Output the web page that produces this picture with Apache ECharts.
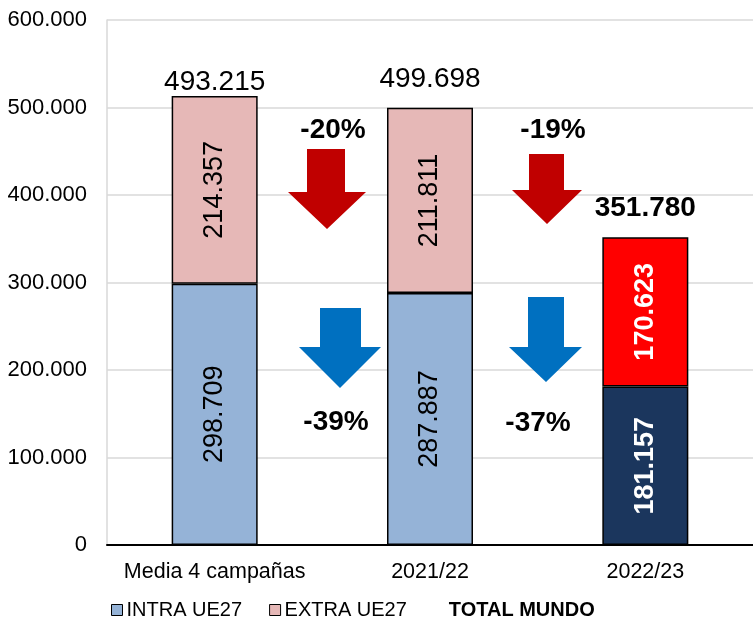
<!DOCTYPE html>
<html>
<head>
<meta charset="utf-8">
<script src="https://cdn.jsdelivr.net/npm/echarts@6/dist/echarts.min.js"></script>
<style>
html,body{margin:0;padding:0;background:#fff;}
#chart{width:753px;height:624px;}
</style>
</head>
<body>
<div id="chart"></div>
<script>
// ---- Data ----
var categories = ['Media 4 campañas', '2021/22', '2022/23'];
var intraUE27 = [298709, 287887, 181157];
var extraUE27 = [214357, 211811, 170623];
var totalMundo = [493215, 499698, 351780];
var yTicks = [0, 100000, 200000, 300000, 400000, 500000, 600000];
var extraChanges = ['-20%', '-19%'];
var intraChanges = ['-39%', '-37%'];

function fmt(v) {
  return String(v).replace(/\B(?=(\d{3})+(?!\d))/g, '.');
}

var FONT = '"Liberation Sans", Arial, sans-serif';
var chart = echarts.init(document.getElementById('chart'), null, {renderer: 'canvas'});

var intraColors = ['#95B3D7', '#95B3D7', '#1B365D'];
var extraColors = ['#E6B8B7', '#E6B8B7', '#FF0000'];
var hiIdx = 2;

function barData(vals, colors) {
  return vals.map(function (v, i) {
    var hi = i === hiIdx;
    return {
      value: v,
      itemStyle: {color: colors[i]},
      label: {color: hi ? '#FFFFFF' : '#000000', fontWeight: hi ? 'bold' : 'normal'}
    };
  });
}

var totalData = totalMundo.map(function (v, i) {
  var hi = i === hiIdx;
  return {
    value: v,
    label: {fontWeight: hi ? 'bold' : 'normal', offset: i === 0 ? [0, -3] : [0, 0]}
  };
});

// Arrow annotations (pixel shapes)
function arrow(x1, x2, top, headY, hx1, hx2, tipX, tipY, color) {
  return {
    type: 'polygon',
    shape: {points: [[x1, top], [x2, top], [x2, headY], [hx2, headY], [tipX, tipY], [hx1, headY], [x1, headY]]},
    style: {fill: color},
    z: 10
  };
}
function pct(text, x, y) {
  return {
    type: 'text', x: x, y: y,
    style: {text: text, font: 'bold 28px ' + FONT, fill: '#000', align: 'center', verticalAlign: 'middle'},
    z: 10
  };
}

var option = {
  animation: false,
  backgroundColor: '#ffffff',
  textStyle: {fontFamily: FONT},
  grid: {left: 107, right: -1, top: 20, bottom: 79, containLabel: false},
  legend: {
    left: 111, top: 600, padding: 0,
    itemWidth: 11, itemHeight: 11, itemGap: 27,
    textStyle: {fontSize: 20, color: '#000', fontFamily: FONT, padding: [0, 0, 0, -1]},
    data: [
      {name: 'INTRA UE27', icon: 'rect', itemStyle: {color: '#95B3D7', borderColor: '#000', borderWidth: 1}},
      {name: 'EXTRA UE27', icon: 'rect', itemStyle: {color: '#E6B8B7', borderColor: '#000', borderWidth: 1}},
      {name: 'TOTAL MUNDO', icon: 'none', textStyle: {fontWeight: 'bold'}}
    ]
  },
  xAxis: {
    type: 'category',
    data: categories,
    axisLine: {lineStyle: {color: '#000', width: 2}},
    axisTick: {show: false},
    axisLabel: {fontSize: 21.5, color: '#000', margin: 16, fontFamily: FONT, interval: 0, hideOverlap: false}
  },
  yAxis: {
    type: 'value',
    min: yTicks[0], max: yTicks[yTicks.length - 1], interval: yTicks[1] - yTicks[0],
    axisLine: {show: true, lineStyle: {color: '#D9D9D9', width: 1.5}},
    axisTick: {show: false},
    splitLine: {lineStyle: {color: '#D9D9D9', width: 1.5}},
    axisLabel: {fontSize: 22, color: '#000', margin: 20, fontFamily: FONT, formatter: function (v) { return fmt(v); }}
  },
  series: [
    {
      name: 'INTRA UE27', type: 'bar', stack: 't', barWidth: 86,
      data: barData(intraUE27, intraColors),
      itemStyle: {borderColor: '#000', borderWidth: 1.5},
      label: {show: true, position: 'inside', rotate: 90, fontSize: 27, fontFamily: FONT,
        formatter: function (p) { return fmt(p.value); }}
    },
    {
      name: 'EXTRA UE27', type: 'bar', stack: 't', barWidth: 86,
      data: barData(extraUE27, extraColors),
      itemStyle: {borderColor: '#000', borderWidth: 1.5},
      label: {show: true, position: 'inside', rotate: 90, fontSize: 27, fontFamily: FONT,
        formatter: function (p) { return fmt(p.value); }}
    },
    {
      name: 'TOTAL MUNDO', type: 'scatter', symbolSize: 1,
      itemStyle: {color: 'rgba(0,0,0,0)', opacity: 1},
      data: totalData,
      label: {show: true, position: 'top', distance: 14, fontSize: 28, color: '#000', fontFamily: FONT,
        formatter: function (p) { return fmt(p.value); }},
      z: 5
    }
  ],
  graphic: [
    arrow(307, 345, 149, 192, 288, 366, 327, 229, '#C00000'),
    arrow(529, 564, 154, 190, 512, 582, 547, 224, '#C00000'),
    arrow(320, 361, 308, 347, 299, 381, 340, 388, '#0070C0'),
    arrow(528, 564, 297, 347, 509, 582, 546, 382, '#0070C0'),
    pct(extraChanges[0], 333, 130),
    pct(extraChanges[1], 553, 130),
    pct(intraChanges[0], 336, 422),
    pct(intraChanges[1], 538, 423)
  ]
};
chart.setOption(option);
</script>
</body>
</html>
